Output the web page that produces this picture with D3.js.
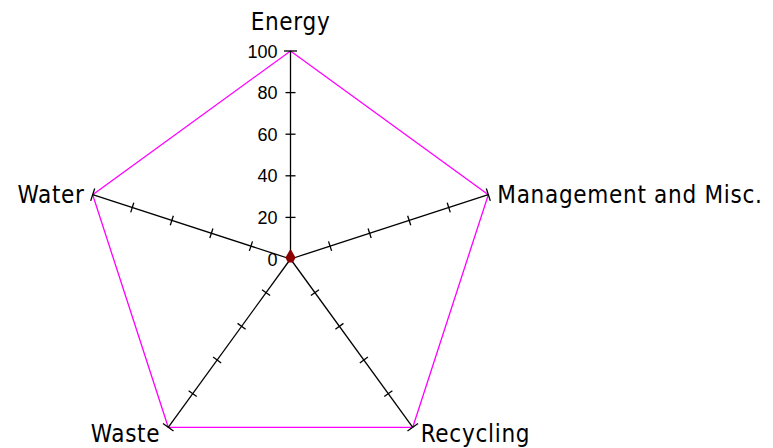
<!DOCTYPE html>
<html>
<head>
<meta charset="utf-8">
<script src="https://cdn.jsdelivr.net/npm/d3@7"></script>
<style>
  body { margin: 0; background: #fff; }
  .lbl { font-family: "DejaVu Sans Condensed", "Liberation Sans", Arial, sans-serif; font-stretch: condensed; font-size: 24px; letter-spacing: 0.7px; fill: #000; }
  .tk { font-family: "Liberation Sans", Arial, sans-serif; font-size: 18px; fill: #000; }
</style>
</head>
<body>
<script>
// axes, du haut puis dans le sens horaire
const axes = ["Energy", "Management and Misc.", "Recycling", "Waste", "Water"];
// serie max (magenta) et serie reelle (rouge fonce)
const valeursMax = [100, 100, 100, 100, 100];
const valeurs = [4, 2, 1.5, 1.5, 2];
const graduations = [0, 20, 40, 60, 80, 100];

const largeur = 773, hauteur = 448;
const cx = 290.5, cy = 259;

const svg = d3.select("body").append("svg")
    .attr("width", largeur)
    .attr("height", hauteur);

const g = svg.append("g").attr("transform", "translate(" + cx + "," + cy + ")");

const echelleR = d3.scaleLinear().domain([0, 100]).range([0, 208]);
const angle = i => i * 2 * Math.PI / axes.length;
// point sur un axe (angle 0 = vers le haut)
const pt = (i, v) => [Math.sin(angle(i)) * echelleR(v), -Math.cos(angle(i)) * echelleR(v)];

// polygone magenta
const ligne = d3.line().curve(d3.curveLinearClosed);
g.append("path")
    .attr("d", ligne(valeursMax.map((v, i) => pt(i, v))))
    .attr("fill", "none")
    .attr("stroke", "#ff00ff")
    .attr("stroke-width", 1.3);

// axes + petites graduations
axes.forEach(function(nom, i) {
    const fin = pt(i, 100);
    g.append("line")
        .attr("x1", 0).attr("y1", 0)
        .attr("x2", fin[0]).attr("y2", fin[1])
        .attr("stroke", "#000")
        .attr("stroke-width", 1.3);

    const a = angle(i);
    const px = Math.cos(a), py = Math.sin(a); // perpendiculaire
    graduations.slice(1).forEach(function(t) {
        const p = pt(i, t);
        const l = (t === 100) ? 6.5 : 5;
        g.append("line")
            .attr("x1", p[0] - px * l).attr("y1", p[1] - py * l)
            .attr("x2", p[0] + px * l).attr("y2", p[1] + py * l)
            .attr("stroke", "#000")
            .attr("stroke-width", 1.3);
    });
});

// etiquettes des graduations sur l'axe Energy
g.selectAll(".tk").data(graduations).enter()
    .append("text")
    .attr("class", "tk")
    .attr("x", -13)
    .attr("y", d => -echelleR(d) + 6.5)
    .attr("text-anchor", "end")
    .text(d => d);

// serie rouge
g.append("path")
    .attr("d", ligne(valeurs.map((v, i) => pt(i, v))))
    .attr("fill", "#8b0000")
    .attr("stroke", "#8b0000")
    .attr("stroke-width", 2)
    .attr("stroke-linejoin", "round");

// noms des axes
const posLabels = [
    {dx: 0, dy: -21, anchor: "middle"},
    {dx: 9, dy: 8, anchor: "start"},
    {dx: 8, dy: 15, anchor: "start"},
    {dx: -8, dy: 15, anchor: "end"},
    {dx: -8, dy: 8, anchor: "end"}
];
axes.forEach(function(nom, i) {
    const p = pt(i, 100);
    g.append("text")
        .attr("class", "lbl")
        .attr("x", p[0] + posLabels[i].dx)
        .attr("y", p[1] + posLabels[i].dy)
        .attr("text-anchor", posLabels[i].anchor)
        .text(nom);
});
</script>
</body>
</html>
